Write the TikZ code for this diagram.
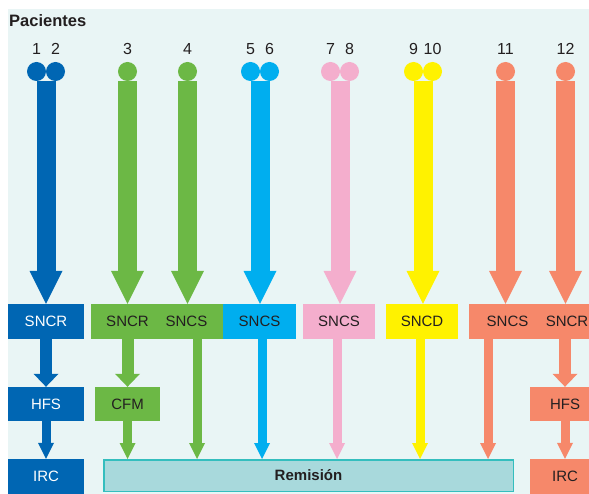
\documentclass[tikz,border=0pt]{standalone}
\usepackage{fontspec}
\setmainfont{Liberation Sans}
\usetikzlibrary{arrows.meta, calc}

\definecolor{fondo}{RGB}{233,245,245}
\definecolor{texto}{RGB}{35,31,32}
\definecolor{azul}{RGB}{0,102,179}
\definecolor{verde}{RGB}{108,184,69}
\definecolor{cian}{RGB}{0,174,239}
\definecolor{rosa}{RGB}{244,174,205}
\definecolor{amarillo}{RGB}{255,242,0}
\definecolor{naranja}{RGB}{246,136,106}
\definecolor{remfondo}{RGB}{168,217,220}
\definecolor{remborde}{RGB}{52,190,190}

\tikzset{
  paciente/.style={circle, fill=#1, minimum size=19pt, inner sep=0pt},
  numero/.style={text=texto, inner sep=0pt, font=\fontsize{16}{19}\selectfont},
  caja/.style={rectangle, fill=#1, inner sep=0pt, minimum height=35pt, text=texto,
    font=\fontsize{15}{18}\selectfont, text height=10.8pt, text depth=0pt},
  rotulo/.style={text=texto, inner sep=0pt, font=\fontsize{15}{18}\selectfont,
    text height=10.8pt, text depth=0pt},
  flechaG/.style={draw=#1, line width=19pt, -{Triangle[width=33pt,length=33pt,line width=0pt]}},
  flechaM/.style={draw=#1, line width=12pt, -{Triangle[width=25pt,length=13pt,line width=0pt]}},
  flechaP/.style={draw=#1, line width=9pt, -{Triangle[width=16pt,length=16pt,line width=0pt]}}
}

\begin{document}
\begin{tikzpicture}[x=1pt, y=-1pt]

\useasboundingbox (0,0) rectangle (589,494);
\fill[fondo] (8,9) rectangle (589,494);

\node (titulo) at (9,27) [anchor=base west, inner sep=0pt, text=texto, font=\bfseries\fontsize{16.5}{19}\selectfont] {Pacientes};

%Pacientes
\node (p1) at (36.5,71.5) [paciente=azul] {};
\node (p2) at (55.5,71.5) [paciente=azul] {};
\node (p3) at (127.5,71.5) [paciente=verde] {};
\node (p4) at (187.5,71.5) [paciente=verde] {};
\node (p5) at (250.5,71.5) [paciente=cian] {};
\node (p6) at (269.5,71.5) [paciente=cian] {};
\node (p7) at (330.5,71.5) [paciente=rosa] {};
\node (p8) at (349.5,71.5) [paciente=rosa] {};
\node (p9) at (413.5,71.5) [paciente=amarillo] {};
\node (p10) at (432.5,71.5) [paciente=amarillo] {};
\node (p11) at (505.5,71.5) [paciente=naranja] {};
\node (p12) at (565.5,71.5) [paciente=naranja] {};

\foreach \i in {1,...,12}
  \node (n\i) at ($(p\i.north)+(0,-13)$) [numero] {\i};

\coordinate (a12) at ($(p1.south)!.5!(p2.south)$);
\coordinate (a56) at ($(p5.south)!.5!(p6.south)$);
\coordinate (a78) at ($(p7.south)!.5!(p8.south)$);
\coordinate (a910) at ($(p9.south)!.5!(p10.south)$);

%Cajas
\node (b1) at (46,321.5) [caja=azul, text=white, minimum width=76pt] {SNCR};
\node (bV) at (157,321.5) [caja=verde, minimum width=132pt] {};
\node (sV1) at (127.5,321.5) [rotulo] {SNCR};
\node (sV2) at (186.5,321.5) [rotulo] {SNCS};
\node (bC) at (259.5,321.5) [caja=cian, minimum width=73pt] {SNCS};
\node (bR) at (339,321.5) [caja=rosa, minimum width=72pt] {SNCS};
\node (bA) at (422,321.5) [caja=amarillo, minimum width=72pt] {SNCD};
\node (bN) at (534.5,321.5) [caja=naranja, minimum width=131pt] {};
\node (sN1) at (507.5,321.5) [rotulo] {SNCS};
\node (sN2) at (567,321.5) [rotulo] {SNCR};

\node (h1) at (46,404) [caja=azul, text=white, minimum width=76pt, minimum height=34pt] {HFS};
\node (cfm) at (127.5,404) [caja=verde, minimum width=65pt, minimum height=34pt] {CFM};
\node (h2) at (565,404) [caja=naranja, minimum width=70pt, minimum height=34pt] {HFS};

\node (i1) at (46,476.5) [caja=azul, text=white, minimum width=76pt] {IRC};
\node (rem) at (308.5,475.5) [rectangle, fill=remfondo, draw=remborde, line width=1.5pt,
  minimum width=409.5pt, minimum height=31.5pt, inner sep=0pt, text=texto,
  font=\bfseries\fontsize{15}{18}\selectfont, text height=10.8pt, text depth=0pt] {Remisión};
\node (i2) at (565,476.5) [caja=naranja, minimum width=70pt] {IRC};

%Flechas grandes
\draw[flechaG=azul] (a12) -- (a12 |- b1.north);
\draw[flechaG=verde] (p3.south) -- (p3.south |- bV.north);
\draw[flechaG=verde] (p4.south) -- (p4.south |- bV.north);
\draw[flechaG=cian] (a56) -- (a56 |- bC.north);
\draw[flechaG=rosa] (a78) -- (a78 |- bR.north);
\draw[flechaG=amarillo] (a910) -- (a910 |- bA.north);
\draw[flechaG=naranja] (p11.south) -- (p11.south |- bN.north);
\draw[flechaG=naranja] (p12.south) -- (p12.south |- bN.north);

%Flechas segundo nivel
\draw[flechaM=azul] (b1.south) -- (h1.north);
\draw[flechaM=verde] (cfm.north |- bV.south) -- (cfm.north);
\draw[flechaM=naranja] (h2.north |- bN.south) -- (h2.north);

%Flechas finales
\coordinate (t4) at (197,0);
\coordinate (t56) at (262,0);
\coordinate (t78) at (337,0);
\coordinate (t910) at (420,0);
\coordinate (t11) at (488,0);

\draw[flechaP=azul] (h1.south) -- (i1.north);
\draw[flechaP=verde] (cfm.south) -- (cfm.south |- rem.north);
\draw[flechaP=naranja] (h2.south) -- (i2.north);
\draw[flechaP=verde] (bV.south -| t4) -- (rem.north -| t4);
\draw[flechaP=cian] (bC.south -| t56) -- (rem.north -| t56);
\draw[flechaP=rosa] (bR.south -| t78) -- (rem.north -| t78);
\draw[flechaP=amarillo] (bA.south -| t910) -- (rem.north -| t910);
\draw[flechaP=naranja] (bN.south -| t11) -- (rem.north -| t11);

\end{tikzpicture}
\end{document}
